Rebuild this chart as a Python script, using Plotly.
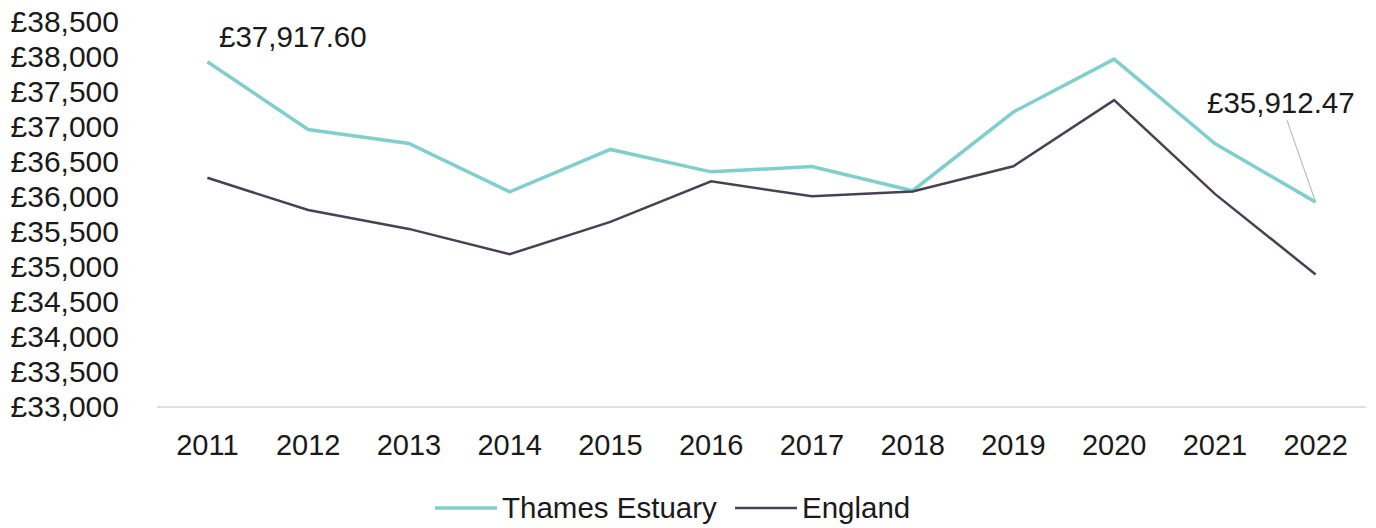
import plotly.graph_objects as go

# Median annual pay, Thames Estuary vs England
years = ["2011", "2012", "2013", "2014", "2015", "2016",
         "2017", "2018", "2019", "2020", "2021", "2022"]
thames_estuary = [37917.60, 36950, 36750, 36060, 36665, 36345,
                  36420, 36075, 37200, 37955, 36750, 35912.47]
england = [36260, 35800, 35530, 35170, 35630, 36210,
           35995, 36065, 36425, 37370, 36030, 34880]

y_ticks = list(range(33000, 38501, 500))
y_tick_text = [f"£{v:,}" for v in y_ticks]

FONT = "Liberation Sans, Arial, sans-serif"
TEXT = "#1a1a1a"
TEAL = "#80cfcc"
PLUM = "#4b4052"

series = [("Thames Estuary", thames_estuary, TEAL, 3.5),
          ("England", england, PLUM, 2.5)]

fig = go.Figure()
for name, values, color, width in series:
    fig.add_trace(go.Scatter(
        x=years, y=values, name=name, mode="lines",
        line=dict(color=color, width=width), showlegend=False,
    ))

# Value callouts for the first and last Thames Estuary points
fig.add_annotation(
    x=0, y=thames_estuary[0], xref="x", yref="y",
    text=f"£{thames_estuary[0]:,.2f}", showarrow=False,
    xshift=86, yshift=25,
    font=dict(family=FONT, size=29.5, color=TEXT),
)
fig.add_annotation(
    x=len(years) - 1, y=thames_estuary[-1], xref="x", yref="y",
    text=f"£{thames_estuary[-1]:,.2f}", showarrow=True,
    ax=-35, ay=-100, arrowhead=0, arrowwidth=1.2, arrowcolor="#bdbdbd",
    standoff=2,
    font=dict(family=FONT, size=29.5, color=TEXT),
)

# Legend row below the axis: long line swatch followed by the series name
PLOT_L, PLOT_R, PLOT_T, PLOT_B = 157, 1366, 21, 406
def px_x(px):
    return (px - PLOT_L) / (PLOT_R - PLOT_L)
def px_y(py):
    return (PLOT_B - py) / (PLOT_B - PLOT_T)

legend_y = px_y(508)
legend_items = [(series[0], 435, 497, 500), (series[1], 735, 797, 800)]
for (name, _, color, width), x0, x1, tx in legend_items:
    fig.add_shape(
        type="line", xref="paper", yref="paper",
        x0=px_x(x0), x1=px_x(x1), y0=legend_y, y1=legend_y,
        line=dict(color=color, width=width),
    )
    fig.add_annotation(
        xref="paper", yref="paper", x=px_x(tx), y=legend_y,
        xanchor="left", yanchor="middle", text=name, showarrow=False,
        font=dict(family=FONT, size=29.5, color=TEXT),
    )

fig.update_layout(
    width=1376, height=528,
    margin=dict(l=PLOT_L, r=1376 - PLOT_R, t=PLOT_T, b=528 - PLOT_B),
    paper_bgcolor="white", plot_bgcolor="white",
    font=dict(family=FONT, size=29.5, color=TEXT),
    showlegend=False,
    xaxis=dict(
        type="category", range=[-0.5, 11.5], automargin=False,
        showgrid=False, zeroline=False,
        showline=True, linecolor="#e0e0e0", linewidth=2,
        ticks="", ticklabelstandoff=12,
        tickfont=dict(family=FONT, size=29, color=TEXT),
    ),
    yaxis=dict(
        range=[33000, 38500], tickvals=y_ticks, ticktext=y_tick_text,
        automargin=False,
        showgrid=False, zeroline=False, showline=False,
        ticks="", ticklabelstandoff=37,
        tickfont=dict(family=FONT, size=30, color=TEXT),
    ),
)

fig.write_html("out.html")
